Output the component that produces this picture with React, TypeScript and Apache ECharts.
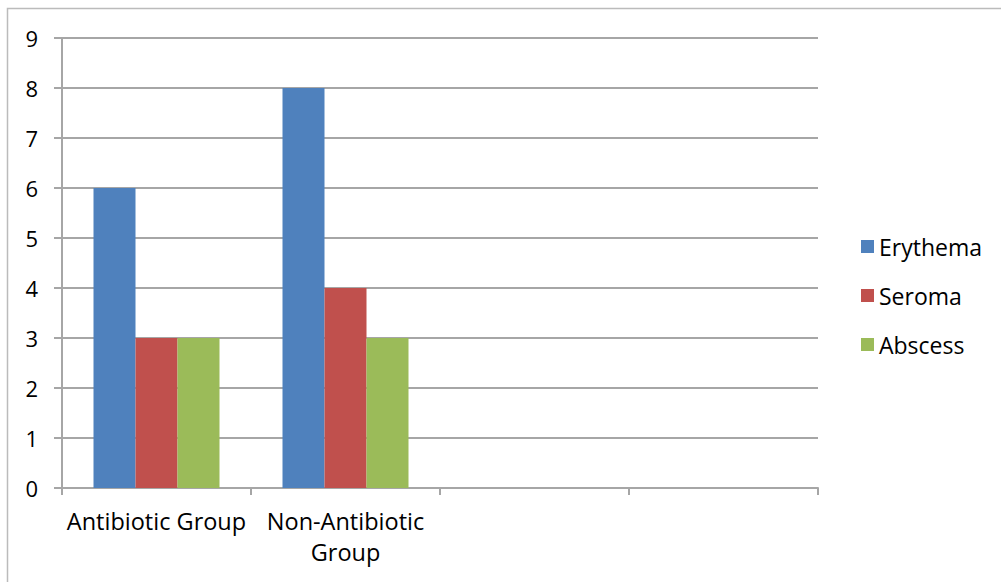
import React, { useEffect, useRef } from "react";
import * as echarts from "echarts";

const categories = ["Antibiotic Group", "Non-Antibiotic\nGroup", "", ""];
const seriesNames = ["Erythema", "Seroma", "Abscess"];
const erythema = [6, 8, null, null];
const seroma = [3, 4, null, null];
const abscess = [3, 3, null, null];
const colors = ["#4F81BD", "#C0504D", "#9BBB59"];
const yTicks = { min: 0, max: 9, interval: 1 };

const FONT = "'Open Sans', 'Noto Sans', sans-serif";

export default function App() {
  const ref = useRef<HTMLDivElement>(null);
  useEffect(() => {
    if (!ref.current) return;
    const chart = echarts.init(ref.current, null, { renderer: "svg" });
    const values = [erythema, seroma, abscess];
    chart.setOption({
      animation: false,
      backgroundColor: "#ffffff",
      textStyle: { fontFamily: FONT },
      grid: { left: 62, right: 183, top: 38, bottom: 94, containLabel: false },
      graphic: [
        {
          type: "rect",
          shape: { x: 7.5, y: 8.5, width: 1010, height: 600 },
          style: { fill: "none", stroke: "#BBBBBB", lineWidth: 1.5 },
          silent: true,
        },
      ],
      legend: {
        orient: "vertical",
        left: 861,
        top: 235,
        itemWidth: 13,
        itemHeight: 13,
        itemGap: 26,
        icon: "rect",
        padding: 0,
        textStyle: { fontSize: 23, color: "#000", fontFamily: FONT, padding: [0, 0, 0, 0] },
        data: seriesNames,
      },
      xAxis: {
        type: "category",
        data: categories,
        boundaryGap: true,
        axisLine: { lineStyle: { color: "#A6A6A6", width: 2 } },
        axisTick: { show: true, length: 7, lineStyle: { color: "#A6A6A6", width: 2 } },
        axisLabel: {
          color: "#000",
          fontSize: 23.5,
          fontFamily: FONT,
          margin: 17,
          lineHeight: 31,
          interval: 0,
        },
      },
      yAxis: {
        type: "value",
        min: yTicks.min,
        max: yTicks.max,
        interval: yTicks.interval,
        axisLine: { show: true, lineStyle: { color: "#A6A6A6", width: 2 } },
        axisTick: { show: true, length: 8, lineStyle: { color: "#A6A6A6", width: 2 } },
        splitLine: { lineStyle: { color: "#A6A6A6", width: 2 } },
        axisLabel: { color: "#000", fontSize: 22, fontFamily: FONT, margin: 24 },
      },
      series: seriesNames.map((name, i) => ({
        name,
        type: "bar",
        data: values[i],
        barWidth: 42,
        barGap: "0%",
        itemStyle: { color: colors[i] },
      })),
    });
    return () => chart.dispose();
  }, []);
  return (
    <div
      ref={ref}
      style={{ position: "fixed", left: 0, top: 0, width: 1001, height: 582 }}
    />
  );
}
